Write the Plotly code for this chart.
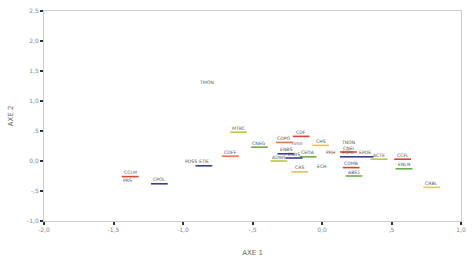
import plotly.graph_objects as go

labels = ["TMON","MTRC","CNEG","CDPO","CDF","nmn","CHS","TNON","CNEI","ECPL",
          "EPDE","ACTE","CCFL","ENLN","CRBL","PRH","CDMB","ABS1","ECH","CRS",
          "CEOA","ENBS","ERRS","ADWS","CDFF","PDSS","ETIE","CCLM","PRS","CPOL"]
axe1 = [-0.83,-0.60,-0.45,-0.27,-0.15,-0.18,-0.01,0.19,0.19,0.19,
        0.31,0.41,0.58,0.59,0.79,0.06,0.21,0.23,0.00,-0.16,
        -0.10,-0.26,-0.20,-0.31,-0.66,-0.94,-0.85,-1.38,-1.40,-1.17]
axe2 = [1.25,0.48,0.23,0.31,0.41,0.23,0.26,0.25,0.15,0.07,
        0.07,0.03,0.03,-0.13,-0.44,0.07,-0.11,-0.25,-0.15,-0.18,
        0.07,0.12,0.05,0.00,0.08,-0.07,-0.08,-0.26,-0.39,-0.38]
groups = ["none","yg","green","orange","red","none","yellow","none","red","blue",
          "blue","yg","red","green","yellow","none","red","green","none","yellow",
          "green","blue","blue","yg","orange","none","blue","red","none","blue"]
group_colors = {"none":"rgba(0,0,0,0)","yg":"#b8cc3c","green":"#6fae45","orange":"#e8774a",
                "red":"#d94434","yellow":"#ecc060","blue":"#3a3f8a"}

xticks = [-2.0,-1.5,-1.0,-0.5,0.0,0.5,1.0]
xticktext = ["-2,0","-1,5","-1,0","-,5","0,0",",5","1,0"]
yticks = [-1.0,-0.5,0.0,0.5,1.0,1.5,2.0,2.5]
yticktext = ["-1,0","-,5","0,0",",5","1,0","1,5","2,0","2,5"]

fig = go.Figure()
fig.add_trace(go.Scatter(
    x=axe1, y=axe2, mode="markers",
    marker=dict(symbol="line-ew", size=12,
                line=dict(width=1.6, color=[group_colors[g] for g in groups]),
                color=[group_colors[g] for g in groups]),
    cliponaxis=False, showlegend=False, text=labels, hoverinfo="text"))

for lab, xv, yv in zip(labels, axe1, axe2):
    fig.add_annotation(x=xv, y=yv, text=lab, showarrow=False, yshift=4,
                       font=dict(family="DejaVu Sans", size=4.6, color="#555555"))

axis_common = dict(showgrid=False, zeroline=False, showline=True, mirror=True,
                   linecolor="#cccccc", linewidth=1, ticks="outside", ticklen=3,
                   tickwidth=2, tickcolor="#333333",
                   tickfont=dict(family="DejaVu Sans", size=6, color="#888888"))
fig.update_xaxes(range=[-2.0, 1.0], tickvals=xticks, ticktext=xticktext,
                 title=dict(text="AXE 1", font=dict(family="DejaVu Sans", size=7, color="#666666"), standoff=17),
                 **axis_common)
fig.update_yaxes(range=[-1.0, 2.5], tickvals=yticks, ticktext=yticktext,
                 title=dict(text="AXE 2", font=dict(family="DejaVu Sans", size=7, color="#666666"), standoff=12),
                 **axis_common)
fig.update_layout(width=473, height=262, margin=dict(l=44, r=7, t=7, b=41),
                  paper_bgcolor="white", plot_bgcolor="white")
fig.write_html("out.html")
